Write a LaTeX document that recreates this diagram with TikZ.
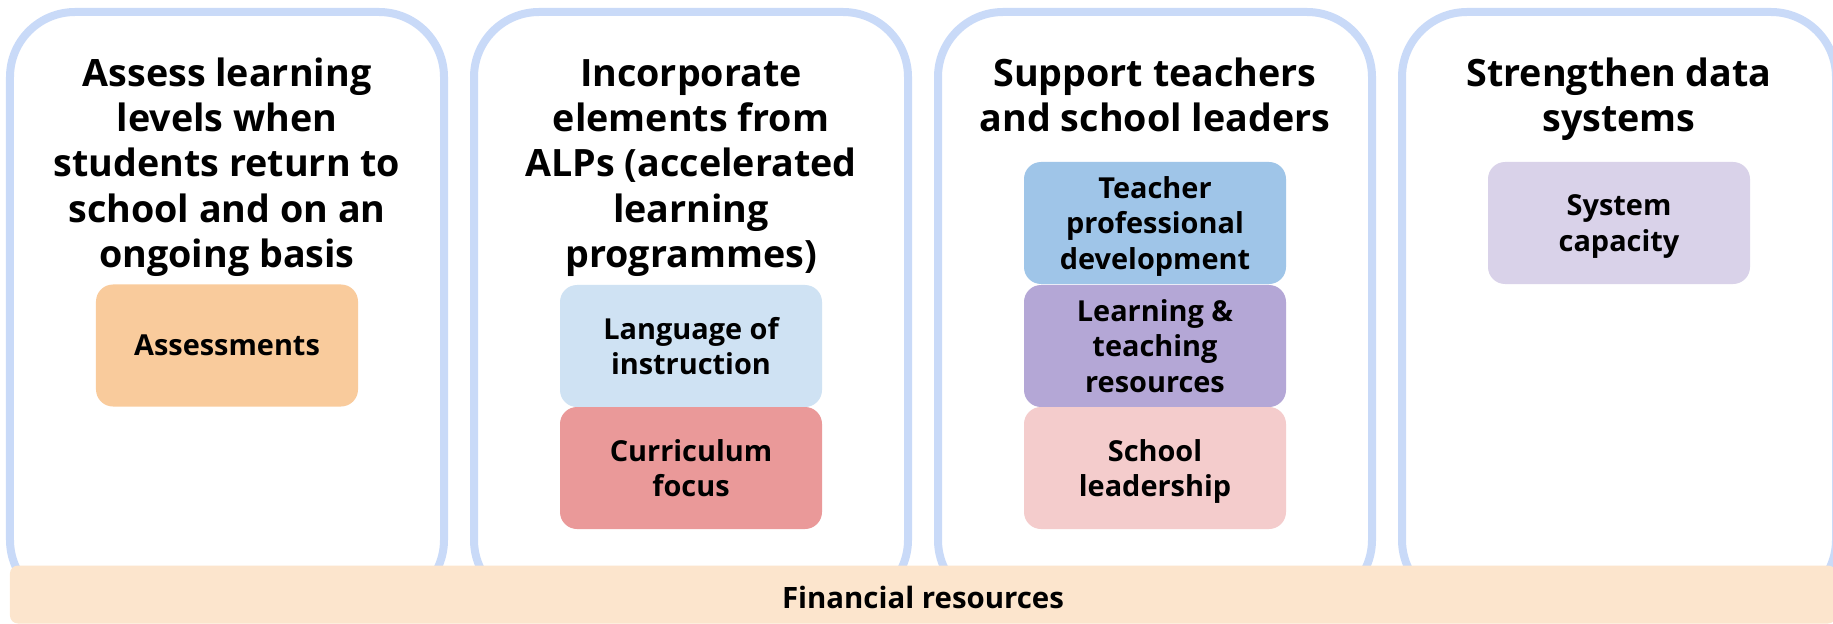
\documentclass[tikz,border=0pt]{standalone}
\usepackage{fontspec}
\setmainfont{Open Sans}
\definecolor{panelblue}{HTML}{C9DAF8}
\definecolor{finfill}{HTML}{FCE5CD}
\definecolor{assessfill}{HTML}{F9CB9C}
\definecolor{langfill}{HTML}{CFE2F3}
\definecolor{currfill}{HTML}{EA9999}
\definecolor{tpdfill}{HTML}{9FC5E8}
\definecolor{resfill}{HTML}{B4A7D6}
\definecolor{leadfill}{HTML}{F4CCCC}
\definecolor{sysfill}{HTML}{D9D2E9}
\begin{document}
\begin{tikzpicture}[x=1bp,y=-1bp,
  panel/.style={draw=panelblue, line width=8bp, fill=white, rounded corners=65bp,
    minimum width=434bp, minimum height=593bp, inner sep=0pt, outer sep=0pt},
  topic/.style={font=\fontsize{37.8}{45.5}\selectfont\bfseries, align=center,
    anchor=north, inner sep=0pt},
  item/.style={rounded corners=17bp, minimum width=262bp, minimum height=122bp,
    inner sep=0pt, align=center, text depth=0pt,
    font=\fontsize{29}{36}\selectfont\bfseries},
  band/.style={fill=finfill, rounded corners=8bp, minimum width=1826bp,
    minimum height=58bp, inner sep=0pt}]
\useasboundingbox (0,0) rectangle (1833,624);

% four outlined columns
\node[panel] (p1) at (227,308.5) {};
\node[panel] (p2) at (691,308.5) {};
\node[panel] (p3) at (1155,308.5) {};
\node[panel] (p4) at (1619,308.5) {};

% column headings
\node[topic] (t1) at (227,54.3) {\strut Assess learning\\levels when\\students return to\\school and on an\\ongoing basis};
\node[topic] (t2) at (691,54.3) {\strut Incorporate\\elements from\\ALPs (accelerated\\learning\\programmes)};
\node[topic] (t3) at (1155,54.3) {\strut Support teachers\\and school leaders};
\node[topic] (t4) at (1619,54.3) {\strut Strengthen data\\systems};

% building blocks
\node[item, fill=assessfill] (a1) at (227,345.5) {Assessments};
\node[item, fill=langfill] (b1) at (691,346) {Language of\\instruction};
\node[item, fill=currfill] (b2) at (691,468) {Curriculum\\focus};
\node[item, fill=tpdfill] (c1) at (1155,223) {Teacher\\professional\\development};
\node[item, fill=resfill] (c2) at (1155,346) {Learning \&\\teaching\\resources};
\node[item, fill=leadfill] (c3) at (1155,468) {School\\leadership};
\node[item, fill=sysfill] (d1) at (1619,223) {System\\capacity};

% shared foundation
\node[band] (fin) at (923,594.5) {};
\node[font=\fontsize{29.5}{36}\selectfont\bfseries, inner sep=0pt] (finlabel) at ([yshift=-2.5bp]fin.center) {Financial resources};
\end{tikzpicture}
\end{document}
